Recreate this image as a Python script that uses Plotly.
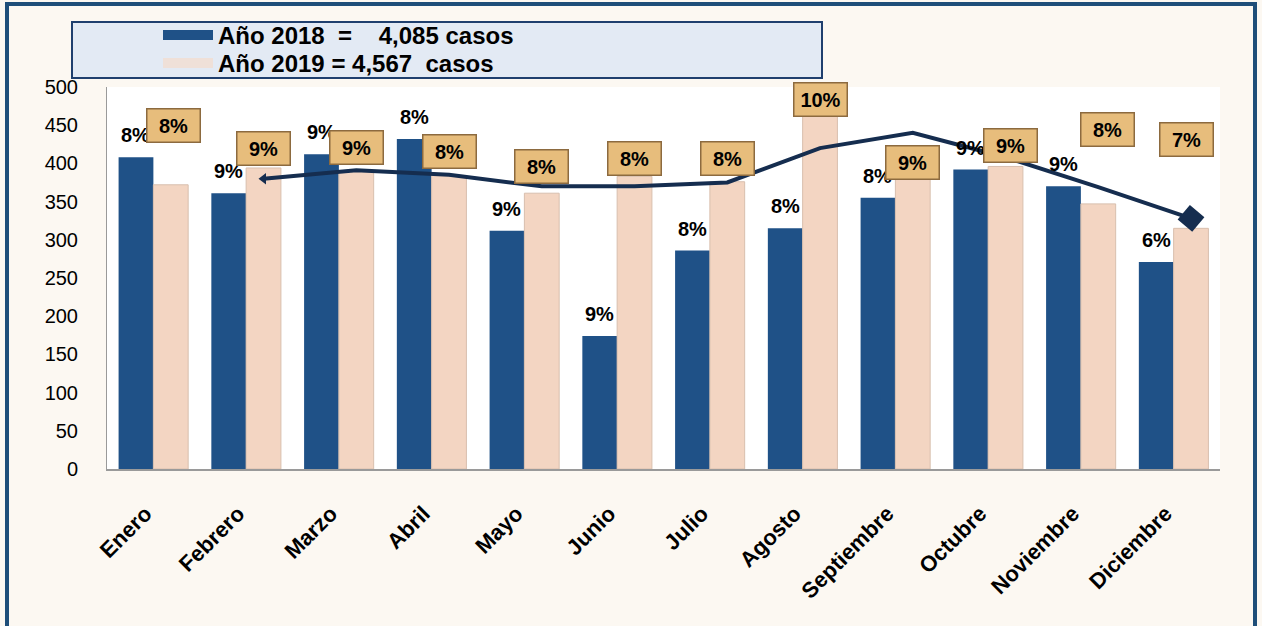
import plotly.graph_objects as go

# ---------------- data ----------------
meses = ["Enero", "Febrero", "Marzo", "Abril", "Mayo", "Junio", "Julio",
         "Agosto", "Septiembre", "Octubre", "Noviembre", "Diciembre"]
casos_2018 = [408, 361, 412, 432, 312, 174, 286, 315, 355, 392, 370, 271]
casos_2019 = [372, 394, 390, 384, 361, 383, 376, 464, 379, 396, 347, 315]
pct_2018 = ["8%", "9%", "9%", "8%", "9%", "9%", "8%", "8%", "8%", "9%", "9%", "6%"]
pct_2019 = ["8%", "9%", "9%", "8%", "8%", "8%", "8%", "10%", "9%", "9%", "8%", "7%"]
tendencia_meses = meses[1:]
tendencia = [380, 391, 385, 370, 370, 375, 420, 440, 408, 369, 328]
legend_2018 = "Año 2018\u00a0 =\u00a0\u00a0\u00a0 4,085 casos"
legend_2019 = "Año 2019 = 4,567\u00a0 casos"

# -------------- layout helpers (positions, not data) --------------
box_y = [449, 420, 421, 415, 396, 407, 407, 484, 401, 423, 444, 431]
box_dx = [0.03, 0, 0, 0, 0, 0, 0, 0, 0, 0.05, 0.1, -0.05]

idx = list(range(len(meses)))
off = 0.1875
x18 = [i - off for i in idx]
x19 = [i + off for i in idx]
xt = [meses.index(m) + off for m in tendencia_meses]

BLUE = "#1f5187"
BEIGE = "#f3d5c2"
NAVY = "#152d4f"
FONT = "Arial, Liberation Sans, sans-serif"

def px_x(p):
    return (p - 107) / 1113

def px_y(p):
    return (469 - p) / 382

fig = go.Figure()
fig.add_trace(go.Bar(
    x=idx, y=casos_2018, name=legend_2018, offsetgroup="a", showlegend=False,
    marker=dict(color=BLUE, line=dict(width=0)),
))
fig.add_trace(go.Bar(
    x=idx, y=casos_2019, name=legend_2019, offsetgroup="b", showlegend=False,
    marker=dict(color=BEIGE, line=dict(color="#d8bfae", width=1)),
))
n = len(xt)
fig.add_trace(go.Scatter(
    x=xt, y=tendencia, mode="lines+markers", showlegend=False,
    line=dict(color=NAVY, width=4),
    marker=dict(color=NAVY, opacity=1,
                symbol=["triangle-left"] + ["circle"] * (n - 2) + ["square"],
                size=[10] + [0] * (n - 2) + [19],
                angle=[0] * (n - 1) + [40],
                line=dict(width=0)),
))
# legend entries (wide swatches), one legend per row
fig.add_trace(go.Scatter(x=[None], y=[None], mode="lines", name=legend_2018,
                         legend="legend", line=dict(color=BLUE, width=10)))
fig.add_trace(go.Scatter(x=[None], y=[None], mode="lines", name=legend_2019,
                         legend="legend2", line=dict(color="#efe0d8", width=10)))

annotations = []
for i in idx:
    annotations.append(dict(
        x=x18[i], y=casos_2018[i], xref="x", yref="y", text=pct_2018[i],
        showarrow=False, yanchor="middle", yshift=22,
        font=dict(family=FONT, size=20, color="black", weight="bold"),
    ))
    annotations.append(dict(
        x=x19[i] + box_dx[i], y=box_y[i], xref="x", yref="y", text=pct_2019[i],
        showarrow=False, yanchor="middle", xanchor="center",
        width=48, height=28,
        bgcolor="#e7bd7c", bordercolor="#8c6a3f", borderwidth=1.5, borderpad=2,
        font=dict(family=FONT, size=20, color="black", weight="bold"),
    ))

shapes = [
    # outer frame
    dict(type="rect", xref="paper", yref="paper",
         x0=px_x(7), x1=px_x(1255), y0=px_y(660), y1=px_y(4),
         line=dict(color="#1f4e79", width=4), fillcolor="rgba(0,0,0,0)", layer="below"),
    # legend box
    dict(type="rect", xref="paper", yref="paper",
         x0=px_x(72), x1=px_x(822), y0=px_y(78), y1=px_y(22),
         line=dict(color="#1f3f6e", width=2), fillcolor="#e3eaf4", layer="below"),
]

leg_common = dict(x=px_x(158), xanchor="left", yanchor="top",
                  bgcolor="rgba(0,0,0,0)", borderwidth=0, itemwidth=50,
                  font=dict(family=FONT, size=24, color="black", weight="bold"))

fig.update_layout(
    width=1262, height=626,
    margin=dict(l=107, r=42, t=87, b=157, autoexpand=False),
    paper_bgcolor="#fcf8f2", plot_bgcolor="white",
    barmode="group", bargap=0.25, bargroupgap=0,
    font=dict(family=FONT, color="black"),
    showlegend=True,
    legend=dict(y=px_y(13), **leg_common),
    legend2=dict(y=px_y(41), **leg_common),
    xaxis=dict(range=[-0.5, 11.5], tickvals=idx, ticktext=meses, tickangle=-45,
               tickfont=dict(family=FONT, size=22, color="black", weight="bold"),
               showgrid=False, zeroline=False, showline=True, linecolor="#9a9a9a",
               linewidth=2, ticks="", ticklabelstandoff=21, ticklabelshift=-8),
    yaxis=dict(range=[0, 500], dtick=50, tickfont=dict(family=FONT, size=20, color="black"),
               showgrid=False, zeroline=False, showline=True, linecolor="#9a9a9a",
               linewidth=1, ticks="", ticklabelstandoff=24),
    annotations=annotations, shapes=shapes,
)

fig.write_html("out.html", config={"displayModeBar": False},
               post_script="document.body.style.margin='0';")
